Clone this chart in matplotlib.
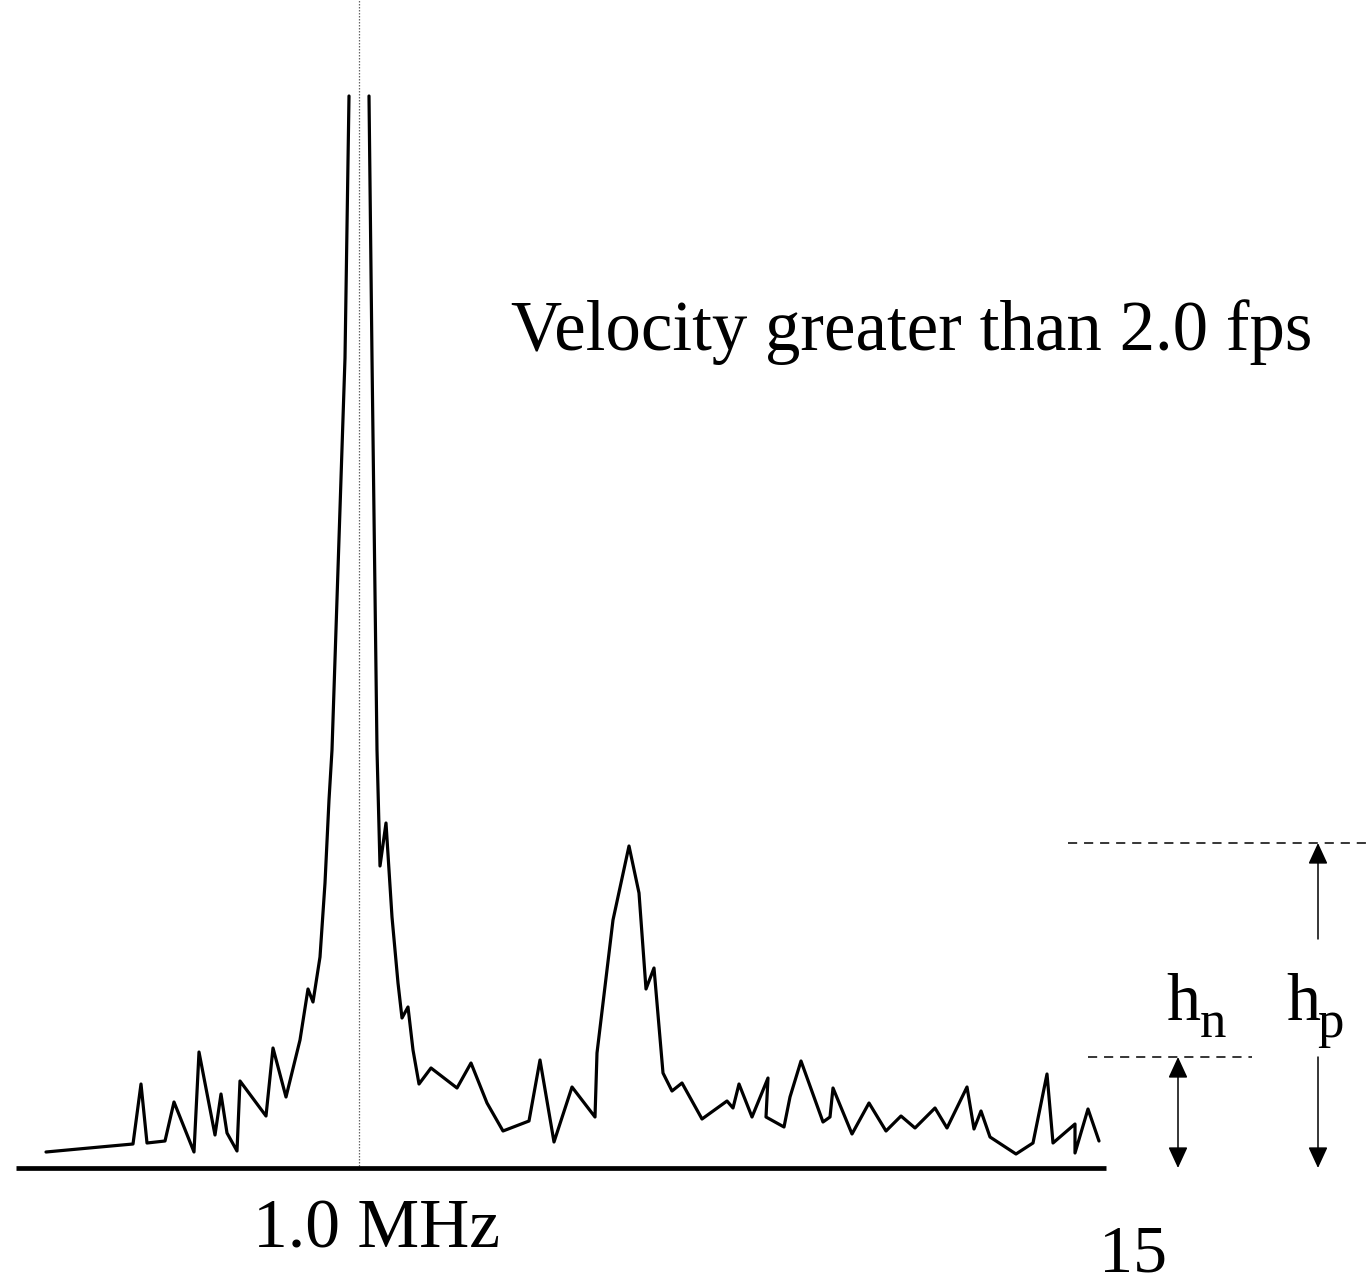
import numpy as np
import matplotlib
matplotlib.use("Agg")
import matplotlib.pyplot as plt

plt.rcParams['font.family'] = ['Liberation Serif', 'DejaVu Serif']

# Spectrum trace: frequency position (px) and level (px from top)
BASE = 1168
left_x = [46, 100, 133, 141, 147, 165, 174, 194, 199, 215, 221, 227, 237, 240, 266, 273, 286,
          300, 308, 313, 320, 325, 329, 332, 345, 349]
left_y = [1152, 1147, 1144, 1084, 1143, 1141, 1102, 1152, 1052, 1135, 1094, 1133, 1151, 1081, 1116, 1048, 1097,
          1040, 989, 1002, 957, 883, 800, 750, 358, 96]
right_x = [369, 372, 377, 380, 386, 392, 398, 402, 408, 413, 419, 431, 457, 471, 487, 503, 529, 540, 554,
           572, 595, 597, 613, 629, 639, 646, 654, 663, 672, 682, 702, 727, 733, 739, 752, 768, 766,
           784, 790, 801, 823, 830, 833, 852, 869, 886, 901, 915, 935, 947, 967, 974, 981, 990, 1016,
           1033, 1047, 1053, 1075, 1075, 1088, 1099]
right_y = [96, 358, 750, 866, 823, 917, 983, 1018, 1007, 1050, 1084, 1068, 1088, 1063, 1103, 1131, 1121, 1060, 1142,
           1087, 1117, 1053, 920, 846, 893, 989, 968, 1073, 1091, 1083, 1119, 1101, 1108, 1084, 1117, 1078, 1117,
           1127, 1097, 1061, 1122, 1117, 1088, 1134, 1103, 1131, 1116, 1128, 1108, 1128, 1087, 1129, 1111, 1137, 1154,
           1143, 1074, 1143, 1124, 1153, 1109, 1141]

peak_freq = 359       # 1.0 MHz marker
noise_level = 1057    # h_n level
peak_level = 843      # h_p level

fig = plt.figure(figsize=(13.68, 12.88), dpi=100)
ax = fig.add_axes([0, 0, 1, 1])
ax.set_xlim(0, 1368)
ax.set_ylim(BASE - 1288, BASE)
ax.set_axis_off()

def amp(v):
    return BASE - np.asarray(v, dtype=float)

# dotted centre line
ax.plot([peak_freq, peak_freq], [amp(1166), amp(0)], color='#666666', lw=0.9, ls=(0, (1.2, 1.2)))

# baseline
ax.plot([16, 1106], [amp(1168), amp(1168)], color='black', lw=3.4, solid_capstyle='butt')

# trace
ax.plot(left_x, amp(left_y), color='black', lw=2.3, solid_joinstyle='round', solid_capstyle='round')
ax.plot(right_x, amp(right_y), color='black', lw=2.3, solid_joinstyle='round', solid_capstyle='round')

# dashed reference levels
ax.plot([1068, 1368], [amp(peak_level)] * 2, color='black', lw=1.1, ls=(0, (6, 4.5)))
ax.plot([1088, 1252], [amp(noise_level)] * 2, color='black', lw=1.1, ls=(0, (6, 4.5)))

astyle = dict(color='black', lw=1.1, shrinkA=0, shrinkB=0, mutation_scale=20)
ax.annotate('', xy=(1178, amp(noise_level)), xytext=(1178, amp(1168)),
            arrowprops=dict(arrowstyle='<|-|>,head_length=0.65,head_width=0.3', **astyle))
ax.annotate('', xy=(1318, amp(peak_level)), xytext=(1318, amp(939)),
            arrowprops=dict(arrowstyle='-|>,head_length=0.65,head_width=0.3', **astyle))
ax.annotate('', xy=(1318, amp(1168)), xytext=(1318, amp(noise_level)),
            arrowprops=dict(arrowstyle='-|>,head_length=0.65,head_width=0.3', **astyle))

# texts
ax.text(511, amp(350), 'Velocity greater than 2.0 fps', fontsize=51, ha='left', va='baseline')
ax.text(253, amp(1247), '1.0 MHz', fontsize=50, ha='left', va='baseline')
ax.text(1099, amp(1286), '15', fontsize=49, ha='left', va='bottom')
ax.text(1166, amp(1020), 'h', fontsize=49, ha='left', va='baseline')
ax.text(1200, amp(1037), 'n', fontsize=38, ha='left', va='baseline')
ax.text(1286, amp(1020), 'h', fontsize=49, ha='left', va='baseline')
ax.text(1317, amp(1037), 'p', fontsize=38, ha='left', va='baseline')

fig.savefig('out.png', dpi=100)
